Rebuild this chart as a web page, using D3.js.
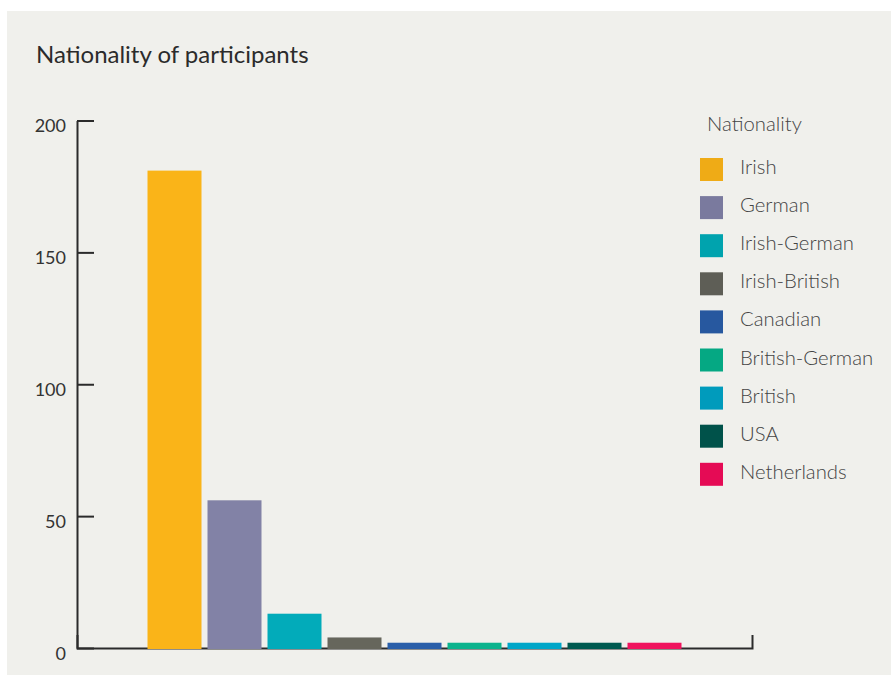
<!DOCTYPE html>
<html>
<head>
<meta charset="utf-8">
<script src="https://cdn.jsdelivr.net/npm/d3@7/dist/d3.min.js"></script>
<style>
  html, body { margin: 0; padding: 0; background: #ffffff; }
  svg { display: block; }
  text { font-family: Lato, "Open Sans", sans-serif; }
</style>
</head>
<body>
<svg id="chart" width="891" height="675"></svg>
<script>
const categories = ["Irish", "German", "Irish-German", "Irish-British", "Canadian", "British-German", "British", "USA", "Netherlands"];
const values = [181, 56, 13, 4, 2, 2, 2, 2, 2];
const barColors = ["#FAB418", "#8282A6", "#02ABBA", "#66665C", "#2A5FA9", "#0BB38D", "#00A6C8", "#005A50", "#F0145E"];
const legendColors = ["#EFAB16", "#7A7A9E", "#00A3AE", "#5E5E56", "#27589F", "#05A883", "#009BBC", "#00524A", "#E50B55"];
const yTicks = [0, 50, 100, 150, 200];
const title = "Nationality of participants";
const legendTitle = "Nationality";

const svg = d3.select("#chart");

svg.append("rect")
  .attr("x", 7).attr("y", 11)
  .attr("width", 884).attr("height", 664)
  .attr("fill", "#F0F0EC");

svg.append("text")
  .attr("x", 36).attr("y", 63)
  .attr("font-size", 24)
  .attr("fill", "#2b2b2b")
  .text(title);

const x = d3.scaleBand()
  .domain(categories)
  .range([77, 752])
  .paddingInner(0.1)
  .paddingOuter(1.175);

const y = d3.scaleLinear()
  .domain([0, 200])
  .range([648, 120.5]);

// y axis
const yAxis = d3.axisLeft(y)
  .tickValues(yTicks)
  .tickSize(-17)
  .tickSizeOuter(0)
  .tickPadding(11);

const gy = svg.append("g").attr("transform", "translate(77,0)").call(yAxis);
gy.select(".domain").attr("stroke", "#2b2b2b").attr("stroke-width", 2);
gy.selectAll(".tick line").attr("stroke", "#2b2b2b").attr("stroke-width", 2);
gy.selectAll(".tick text")
  .attr("font-size", 18)
  .attr("fill", "#333")
  .attr("font-family", "Lato, sans-serif")
  .attr("dy", "0.62em");

// x axis (domain only, with end ticks pointing up)
const xAxis = d3.axisBottom(x)
  .tickSize(0)
  .tickSizeOuter(-13)
  .tickFormat("");
const gx = svg.append("g").attr("transform", "translate(0,648)").call(xAxis);
gx.select(".domain").attr("stroke", "#2b2b2b").attr("stroke-width", 2);
gx.selectAll(".tick").remove();

// bars
svg.append("g").selectAll("rect")
  .data(values)
  .join("rect")
  .attr("x", (d, i) => x(categories[i]))
  .attr("width", x.bandwidth())
  .attr("y", d => y(d))
  .attr("height", d => y(0) - y(d) + 1)
  .attr("fill", (d, i) => barColors[i]);

// legend
const lg = svg.append("g");
lg.append("text")
  .attr("x", 707).attr("y", 131)
  .attr("font-size", 20.3)
  .attr("font-weight", 300)
  .attr("fill", "#444")
  .text(legendTitle);

const items = lg.selectAll("g.item")
  .data(categories)
  .join("g")
  .attr("class", "item")
  .attr("transform", (d, i) => `translate(700,${158 + i * 38.1})`);
items.append("rect")
  .attr("width", 23).attr("height", 23)
  .attr("fill", (d, i) => legendColors[i]);
items.append("text")
  .attr("x", 40).attr("y", 16)
  .attr("font-size", 20.3)
  .attr("font-weight", 300)
  .attr("fill", "#444")
  .text(d => d);
</script>
</body>
</html>
